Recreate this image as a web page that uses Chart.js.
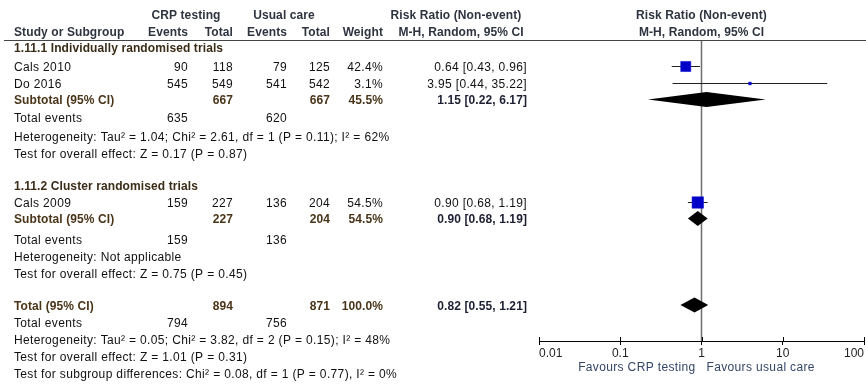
<!DOCTYPE html>
<html>
<head>
<meta charset="utf-8">
<title>Risk Ratio (Non-event) forest plot</title>
<script src="https://cdn.jsdelivr.net/npm/chart.js@4.4.1/dist/chart.umd.min.js"></script>
<style>
  html, body { margin: 0; padding: 0; background: #fff; }
  #wrap { width: 866px; height: 388px; }
</style>
</head>
<body>
<div id="wrap"><canvas id="forest" width="866" height="388"></canvas></div>
<script>
// studies
const studies = ['Cals 2010', 'Do 2016', 'Cals 2009'];
const crpEvents = [90, 545, 159];
const crpTotal = [118, 549, 227];
const ucEvents = [79, 541, 136];
const ucTotal = [125, 542, 204];
const weights = [42.4, 3.1, 54.5];
const rr = [0.64, 3.95, 0.90];
const rrLow = [0.43, 0.44, 0.68];
const rrHigh = [0.96, 35.22, 1.19];

// subtotals and overall total
const groupTitles = ['1.11.1 Individually randomised trials', '1.11.2 Cluster randomised trials'];
const pooledLabels = ['Subtotal (95% CI)', 'Subtotal (95% CI)', 'Total (95% CI)'];
const pooledCrpTotal = [667, 227, 894];
const pooledUcTotal = [667, 204, 871];
const pooledWeight = [45.5, 54.5, 100.0];
const pooledRR = [1.15, 0.90, 0.82];
const pooledLow = [0.22, 0.68, 0.55];
const pooledHigh = [6.17, 1.19, 1.21];
const eventsCrp = [635, 159, 794];
const eventsUc = [620, 136, 756];
const hetText = [
  'Heterogeneity: Tau\u00b2 = 1.04; Chi\u00b2 = 2.61, df = 1 (P = 0.11); I\u00b2 = 62%',
  'Heterogeneity: Not applicable',
  'Heterogeneity: Tau\u00b2 = 0.05; Chi\u00b2 = 3.82, df = 2 (P = 0.15); I\u00b2 = 48%'
];
const effectText = [
  'Test for overall effect: Z = 0.17 (P = 0.87)',
  'Test for overall effect: Z = 0.75 (P = 0.45)',
  'Test for overall effect: Z = 1.01 (P = 0.31)'
];
const subgroupText = 'Test for subgroup differences: Chi\u00b2 = 0.08, df = 1 (P = 0.77), I\u00b2 = 0%';

// axis
const axisTicks = [0.01, 0.1, 1, 10, 100];
const tickLabels = ['0.01', '0.1', '1', '10', '100'];
const favoursLeft = 'Favours CRP testing';
const favoursRight = 'Favours usual care';

// layout (pixel rows of the table; y scale runs in pixels from the top)
const FONT = '"Liberation Sans", Arial, sans-serif';
const AXIS_Y = 341;
const RULE_Y = 40.5;
const HDR_Y = [15.5, 32.5];
const groupY = [49, 187];
const studyY = [68, 85, 204];
const pooledY = [101, 220, 306.5];
const eventsY = [118.5, 241, 324];
const hetY = [137.5, 258, 341];
const effectY = [155, 275, 357.5];
const subgroupY = 375;
const MARK_SHIFT = -1.5;
const col = { label: 14, crpE: 188, crpT: 233, ucE: 287, ucT: 330, weight: 383, rr: 527 };

const fmt2 = v => v.toFixed(2);
const ciText = (e, l, h) => fmt2(e) + ' [' + fmt2(l) + ', ' + fmt2(h) + ']';

// squares sized so that area follows weight
const squareRadius = w => 1.55 * Math.sqrt(w) / Math.SQRT2;

const ciLines = studies.map((s, i) => ({
  label: s + ' CI',
  data: [{ x: rrLow[i], y: studyY[i] + MARK_SHIFT }, { x: rrHigh[i], y: studyY[i] + MARK_SHIFT }],
  showLine: true,
  borderColor: '#222',
  borderWidth: 1,
  pointRadius: 0,
  order: 2
}));

const datasets = [
  {
    label: 'no effect',
    data: [{ x: 1, y: RULE_Y }, { x: 1, y: AXIS_Y }],
    showLine: true,
    borderColor: '#6e6e6e',
    borderWidth: 1.5,
    pointRadius: 0,
    order: 3
  },
  ...ciLines,
  {
    label: 'estimates',
    data: studies.map((s, i) => ({ x: rr[i], y: studyY[i] + MARK_SHIFT })),
    pointStyle: 'rect',
    pointRadius: weights.map(squareRadius),
    backgroundColor: '#0000c8',
    borderColor: '#0000c8',
    borderWidth: 0.5,
    order: 1
  }
];

// pooled diamonds
const diamondPlugin = {
  id: 'diamonds',
  afterDatasetsDraw(chart) {
    const { ctx, scales: { x, y } } = chart;
    ctx.save();
    ctx.fillStyle = '#000';
    pooledRR.forEach((est, i) => {
      const cy = y.getPixelForValue(pooledY[i] + MARK_SHIFT);
      const h = 7.5;
      ctx.beginPath();
      ctx.moveTo(x.getPixelForValue(pooledLow[i]), cy);
      ctx.lineTo(x.getPixelForValue(est), cy - h);
      ctx.lineTo(x.getPixelForValue(pooledHigh[i]), cy);
      ctx.lineTo(x.getPixelForValue(est), cy + h);
      ctx.closePath();
      ctx.fill();
    });
    ctx.restore();
  }
};

// table text, header rule, tick marks above the axis and favours labels
const tablePlugin = {
  id: 'table',
  afterDraw(chart) {
    const { ctx, scales: { x } } = chart;
    const txt = (s, px, py, align, bold, color) => {
      ctx.font = (bold ? 'bold ' : '') + '12px ' + FONT;
      ctx.letterSpacing = bold ? '0.1px' : '0.35px';
      ctx.textAlign = align;
      ctx.fillStyle = color;
      ctx.fillText(s, px, py);
    };
    ctx.save();
    ctx.textBaseline = 'middle';

    const hdr = '#2e3440';
    txt('CRP testing', 186, HDR_Y[0], 'center', true, hdr);
    txt('Usual care', 284, HDR_Y[0], 'center', true, hdr);
    txt('Risk Ratio (Non-event)', 456, HDR_Y[0], 'center', true, hdr);
    txt('Study or Subgroup', col.label, HDR_Y[1], 'left', true, hdr);
    txt('Events', col.crpE, HDR_Y[1], 'right', true, hdr);
    txt('Total', col.crpT, HDR_Y[1], 'right', true, hdr);
    txt('Events', col.ucE, HDR_Y[1], 'right', true, hdr);
    txt('Total', col.ucT, HDR_Y[1], 'right', true, hdr);
    txt('Weight', col.weight, HDR_Y[1], 'right', true, hdr);
    txt('M-H, Random, 95% CI', 461, HDR_Y[1], 'center', true, hdr);
    const xc = x.getPixelForValue(1);
    txt('Risk Ratio (Non-event)', xc, HDR_Y[0], 'center', true, hdr);
    txt('M-H, Random, 95% CI', xc, HDR_Y[1], 'center', true, hdr);

    ctx.strokeStyle = '#444';
    ctx.lineWidth = 1.2;
    ctx.beginPath();
    ctx.moveTo(4, RULE_Y);
    ctx.lineTo(866, RULE_Y);
    ctx.stroke();

    const grp = '#3b2c17';
    const sub = '#4a3519';
    const ink = '#111';
    groupTitles.forEach((g, i) => txt(g, col.label, groupY[i], 'left', true, grp));

    studies.forEach((s, i) => {
      const yy = studyY[i];
      txt(s, col.label, yy, 'left', false, ink);
      txt(String(crpEvents[i]), col.crpE, yy, 'right', false, ink);
      txt(String(crpTotal[i]), col.crpT, yy, 'right', false, ink);
      txt(String(ucEvents[i]), col.ucE, yy, 'right', false, ink);
      txt(String(ucTotal[i]), col.ucT, yy, 'right', false, ink);
      txt(weights[i].toFixed(1) + '%', col.weight, yy, 'right', false, ink);
      txt(ciText(rr[i], rrLow[i], rrHigh[i]), col.rr, yy, 'right', false, ink);
    });

    pooledLabels.forEach((p, i) => {
      const yy = pooledY[i];
      txt(p, col.label, yy, 'left', true, sub);
      txt(String(pooledCrpTotal[i]), col.crpT, yy, 'right', true, sub);
      txt(String(pooledUcTotal[i]), col.ucT, yy, 'right', true, sub);
      txt(pooledWeight[i].toFixed(1) + '%', col.weight, yy, 'right', true, sub);
      txt(ciText(pooledRR[i], pooledLow[i], pooledHigh[i]), col.rr, yy, 'right', true, '#1d1f33');

      txt('Total events', col.label, eventsY[i], 'left', false, ink);
      txt(String(eventsCrp[i]), col.crpE, eventsY[i], 'right', false, ink);
      txt(String(eventsUc[i]), col.ucE, eventsY[i], 'right', false, ink);
      txt(hetText[i], col.label, hetY[i], 'left', false, ink);
      txt(effectText[i], col.label, effectY[i], 'left', false, ink);
    });
    txt(subgroupText, col.label, subgroupY, 'left', false, ink);

    // tick marks cross the axis line
    ctx.strokeStyle = '#000';
    ctx.lineWidth = 1;
    x.ticks.forEach((t, i) => {
      const px = Math.round(x.getPixelForTick(i)) + 0.5;
      ctx.beginPath();
      ctx.moveTo(px, AXIS_Y - 4);
      ctx.lineTo(px, AXIS_Y);
      ctx.stroke();
    });

    const fav = '#34466a';
    txt(favoursLeft, xc - 6, 368, 'right', false, fav);
    txt(favoursRight, xc + 5, 368, 'left', false, fav);
    ctx.restore();
  }
};

new Chart(document.getElementById('forest'), {
  type: 'scatter',
  data: { datasets },
  plugins: [diamondPlugin, tablePlugin],
  options: {
    responsive: false,
    devicePixelRatio: 1,
    animation: false,
    events: [],
    layout: { autoPadding: false, padding: { left: 539, right: 2, top: 0, bottom: 0 } },
    plugins: { legend: { display: false }, tooltip: { enabled: false } },
    scales: {
      x: {
        type: 'logarithmic',
        min: 0.01,
        max: 100,
        position: 'bottom',
        afterBuildTicks: s => { s.ticks = axisTicks.map(v => ({ value: v })); },
        afterFit: s => { s.height = 388 - AXIS_Y; },
        grid: { drawOnChartArea: false, drawTicks: true, tickLength: 4, color: '#000' },
        border: { display: true, color: '#000', width: 1 },
        ticks: {
          align: 'inner',
          padding: 1,
          autoSkip: false,
          maxRotation: 0,
          color: '#222',
          font: { family: FONT, size: 12 },
          callback: (v, i) => tickLabels[i]
        }
      },
      y: {
        type: 'linear',
        display: false,
        reverse: true,
        min: 0,
        max: AXIS_Y
      }
    }
  }
});
</script>
</body>
</html>
